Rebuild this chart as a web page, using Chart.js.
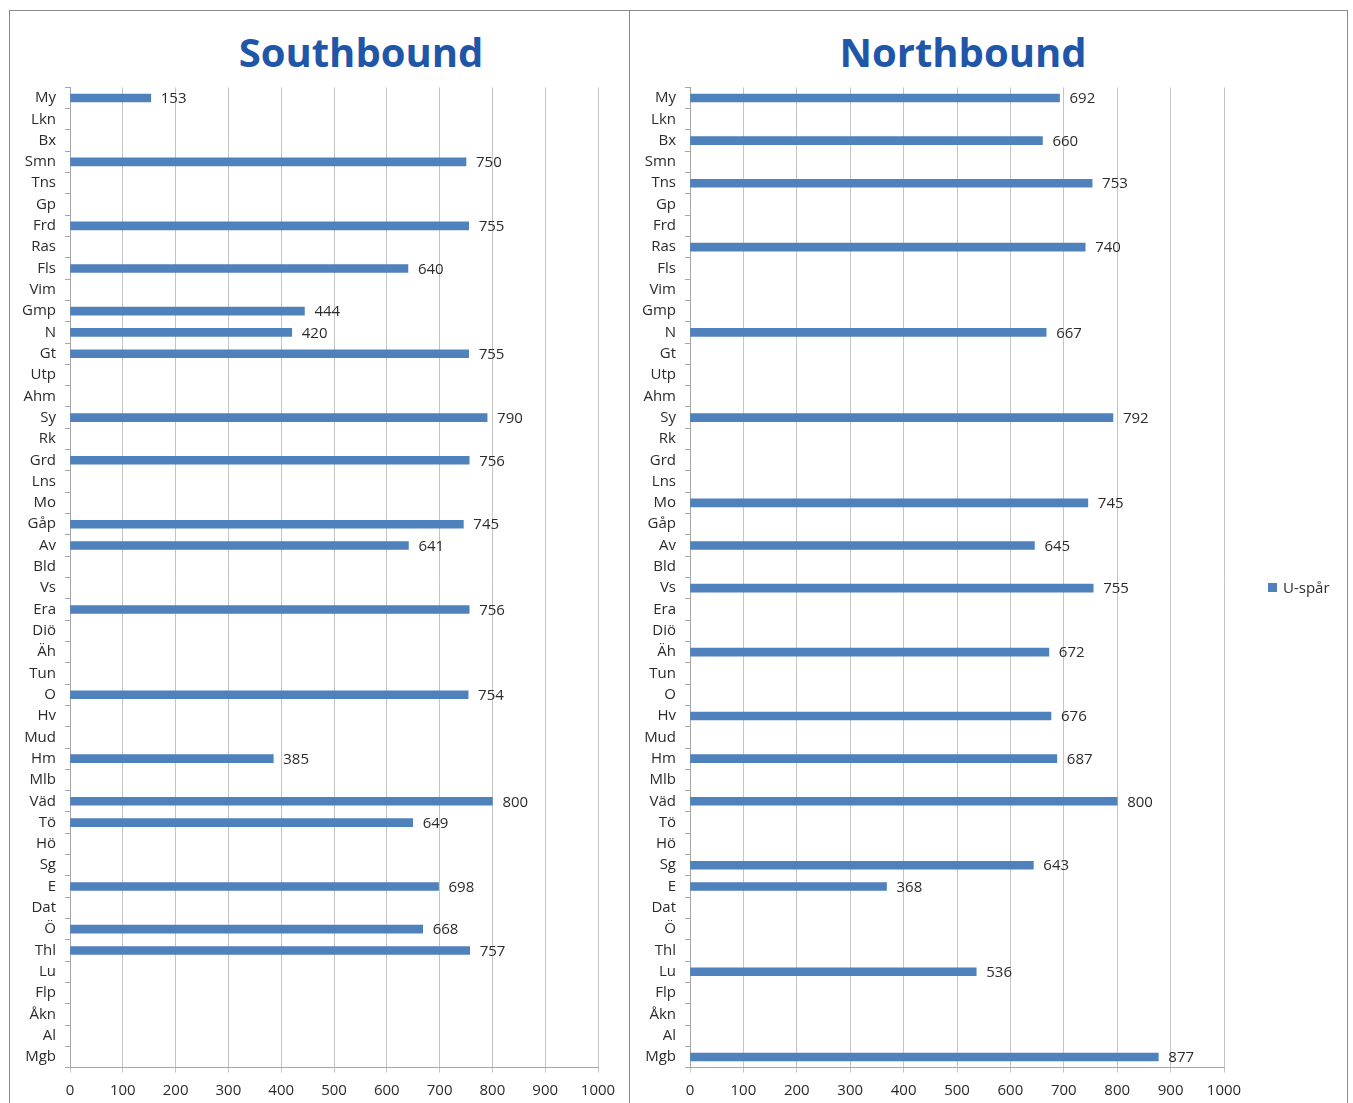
<!DOCTYPE html>
<html>
<head>
<meta charset="utf-8">
<script src="https://cdn.jsdelivr.net/npm/chart.js@4.4.1/dist/chart.umd.min.js"></script>
<style>
  html, body { margin: 0; padding: 0; background: #fff; }
  body { width: 1353px; height: 1103px; position: relative; overflow: hidden; font-family: "Open Sans", sans-serif; }
  .frame { position: absolute; left: 9px; top: 10px; width: 1339px; height: 1100px; border: 1px solid #8a8a8a; box-sizing: border-box; }
  .divider { position: absolute; left: 629px; top: 10px; width: 1px; height: 1100px; background: #8a8a8a; }
  .title { position: absolute; top: 28px; margin: 0; font: bold 40px/48px "Open Sans", sans-serif; color: #1f56a8; white-space: nowrap; transform: translateX(-50%); }
  canvas { position: absolute; }
</style>
</head>
<body>
<div class="frame"></div>
<div class="divider"></div>
<h1 class="title" style="left:361px">Southbound</h1>
<h1 class="title" style="left:963px">Northbound</h1>
<canvas id="south" width="619" height="1091" style="left:10px; top:12px"></canvas>
<canvas id="north" width="715" height="1091" style="left:631px; top:12px"></canvas>

<script>
// Stations, listed top to bottom
const stations = ['My','Lkn','Bx','Smn','Tns','Gp','Frd','Ras','Fls','Vim','Gmp','N','Gt','Utp','Ahm',
  'Sy','Rk','Grd','Lns','Mo','Gåp','Av','Bld','Vs','Era','Diö','Äh','Tun','O','Hv','Mud','Hm','Mlb',
  'Väd','Tö','Hö','Sg','E','Dat','Ö','Thl','Lu','Flp','Åkn','Al','Mgb'];

// U-spår lengths per station (null = no value)
const southbound = [153,null,null,750,null,null,755,null,640,null,444,420,755,null,null,
  790,null,756,null,null,745,641,null,null,756,null,null,null,754,null,null,385,null,
  800,649,null,null,698,null,668,757,null,null,null,null,null];

const northbound = [692,null,660,null,753,null,null,740,null,null,null,667,null,null,null,
  792,null,null,null,745,null,645,null,755,null,null,672,null,null,676,null,687,null,
  800,null,null,643,368,null,null,null,536,null,null,null,877];

const seriesName = 'U-spår';
const axisMin = 0;
const axisMax = 1000;
const axisStep = 100;

const BAR_COLOR = '#4f81bd';
const TEXT_COLOR = '#2b2b2b';
const FONT_FAMILY = '"Open Sans", sans-serif';

// Writes each bar's value just past its end
const valueLabels = {
  id: 'valueLabels',
  afterDatasetsDraw(chart) {
    const ctx = chart.ctx;
    const meta = chart.getDatasetMeta(0);
    const data = chart.data.datasets[0].data;
    ctx.save();
    ctx.font = '15px ' + FONT_FAMILY;
    ctx.fillStyle = TEXT_COLOR;
    ctx.textAlign = 'left';
    ctx.textBaseline = 'middle';
    meta.data.forEach((bar, i) => {
      const v = data[i];
      if (v === null || v === undefined) return;
      ctx.fillText(String(v), bar.x + 10, bar.y + 1);
    });
    ctx.restore();
  }
};

// Small legend to the right of the plot area
const sideLegend = {
  id: 'sideLegend',
  afterDraw(chart, args, opts) {
    if (!opts.show) return;
    const ctx = chart.ctx;
    const ds = chart.data.datasets[0];
    const area = chart.chartArea;
    const x = area.right + 44;
    const y = (area.top + area.bottom) / 2 + 10;
    ctx.save();
    ctx.fillStyle = ds.backgroundColor;
    ctx.fillRect(x, y - 4.5, 9, 9);
    ctx.font = '15px ' + FONT_FAMILY;
    ctx.fillStyle = TEXT_COLOR;
    ctx.textAlign = 'left';
    ctx.textBaseline = 'middle';
    ctx.fillText(ds.label, x + 15, y + 1);
    ctx.restore();
  }
};

function buildChart(id, values, cfg) {
  return new Chart(document.getElementById(id), {
    type: 'bar',
    data: {
      labels: stations,
      datasets: [{
        label: seriesName,
        data: values,
        backgroundColor: BAR_COLOR,
        borderWidth: 0,
        barThickness: 8
      }]
    },
    options: {
      indexAxis: 'y',
      responsive: false,
      animation: false,
      layout: { padding: { left: 0, right: cfg.padRight, top: cfg.padTop, bottom: 0 } },
      plugins: {
        legend: { display: false },
        title: { display: false },
        tooltip: { enabled: false },
        sideLegend: { show: cfg.legend }
      },
      scales: {
        x: {
          min: axisMin,
          max: axisMax,
          ticks: {
            stepSize: axisStep, color: TEXT_COLOR, font: { family: FONT_FAMILY, size: 15 },
            padding: 9, maxRotation: 0,
            callback: (v) => String(v)
          },
          grid: { color: '#c4c4c4', lineWidth: 1, tickLength: 5 },
          border: { color: '#a6a6a6' },
          afterFit(scale) { scale.height = cfg.xHeight; }
        },
        y: {
          ticks: { color: TEXT_COLOR, font: { family: FONT_FAMILY, size: 15 }, padding: 9, autoSkip: false },
          grid: { drawOnChartArea: false, offset: true, tickLength: 5, color: '#a6a6a6' },
          border: { color: '#a6a6a6' },
          afterFit(scale) { scale.width = cfg.yWidth; }
        }
      }
    },
    plugins: [valueLabels, sideLegend]
  });
}

buildChart('south', southbound, { yWidth: 60, padRight: 31, padTop: 75.3, xHeight: 35.3, legend: false });
buildChart('north', northbound, { yWidth: 59, padRight: 122, padTop: 75.3, xHeight: 35.3, legend: true });
</script>
</body>
</html>
